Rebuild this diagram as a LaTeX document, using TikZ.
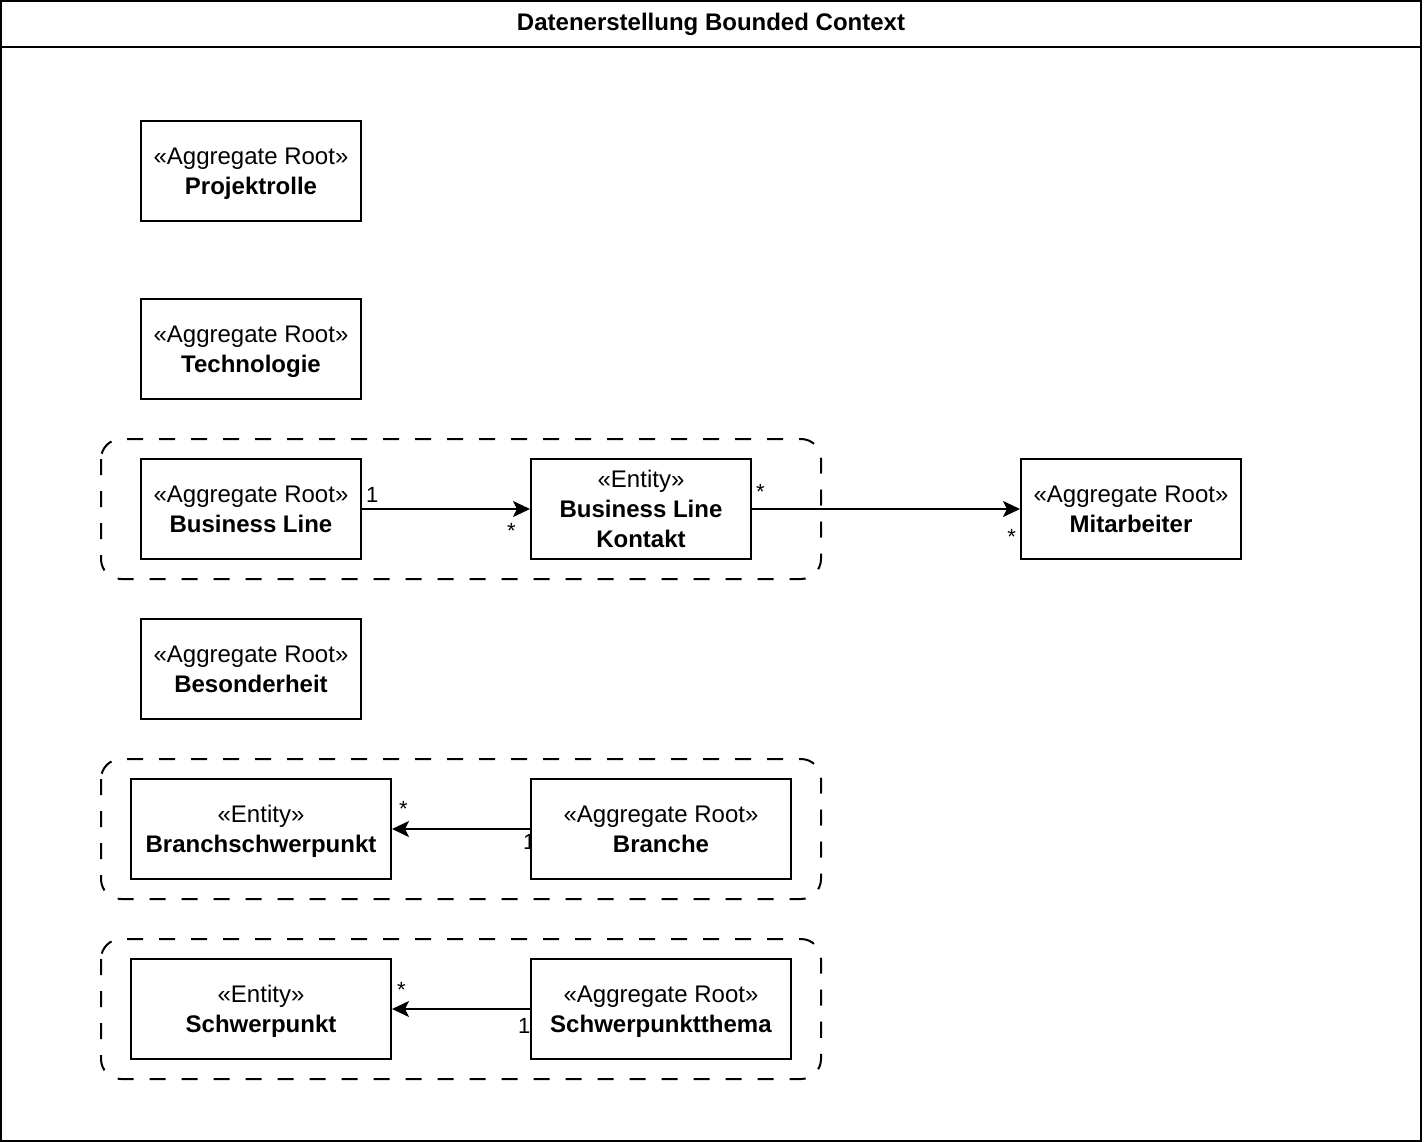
\documentclass[tikz,border=0pt]{standalone}
\usepackage{fontspec}
\setmainfont{Liberation Sans}
\usetikzlibrary{arrows.meta}
\newcommand\nodp[1]{\raisebox{0pt}[\height][0pt]{#1}}
\tikzset{
  box/.style={draw, line width=2pt, fill=white, minimum width=220pt, minimum height=100pt,
    align=center, inner sep=0pt, font=\fontsize{24}{30}\selectfont},
  widebox/.style={box, minimum width=260pt},
  group/.style={draw, line width=2pt, dash pattern=on 16pt off 16pt, rounded corners=20pt},
  conn/.style={line width=2pt, -{Stealth[length=17pt,width=16pt,inset=4pt]}},
  mult/.style={font=\fontsize{22}{24}\selectfont, inner sep=0pt},
  frame/.style={draw, line width=2pt}
}
\begin{document}
\begin{tikzpicture}[x=1pt,y=-1pt]
\useasboundingbox (0,0) rectangle (1424,1142);
% outer frame
\draw[frame] (1,1) rectangle (1421,1141);
\draw[line width=2pt] (1,47) -- (1421,47);
\node[font=\bfseries\fontsize{24}{28}\selectfont] (title) at (711,24) {Datenerstellung Bounded Context};
% groups
\draw[group] (101,439) rectangle (821,579);
\draw[group] (101,759) rectangle (821,899);
\draw[group] (101,939) rectangle (821,1079);
% multiplicity labels (drawn before boxes so boxes clip them)
\node[mult, anchor=west] (m1) at (366,495) {1};
\node[mult, anchor=east] (m2) at (516,531) {*};
\node[mult, anchor=west] (m3) at (756,492) {*};
\node[mult, anchor=east] (m4) at (1016,537) {*};
\node[mult, anchor=west] (m5) at (399,809) {*};
\node[mult, anchor=west] (m6) at (523,842) {1};
\node[mult, anchor=west] (m7) at (397,990) {*};
\node[mult, anchor=west] (m8) at (518,1026) {1};
% boxes
\node[box] (proj) at (251,171) {«Aggregate Root»\\\nodp{\textbf{Projektrolle}}};
\node[box] (tech) at (251,349) {«Aggregate Root»\\\nodp{\textbf{Technologie}}};
\node[box] (bl) at (251,509) {«Aggregate Root»\\\textbf{Business Line}};
\node[box] (blk) at (641,509) {«Entity»\\\textbf{Business Line}\\\textbf{Kontakt}};
\node[box] (mit) at (1131,509) {«Aggregate Root»\\\textbf{Mitarbeiter}};
\node[box] (bes) at (251,669) {«Aggregate Root»\\\textbf{Besonderheit}};
\node[widebox] (bsp) at (261,829) {«Entity»\\\nodp{\textbf{Branchschwerpunkt}}};
\node[widebox] (br) at (661,829) {«Aggregate Root»\\\textbf{Branche}};
\node[widebox] (sp) at (261,1009) {«Entity»\\\nodp{\textbf{Schwerpunkt}}};
\node[widebox] (spt) at (661,1009) {«Aggregate Root»\\\nodp{\textbf{Schwerpunktthema}}};
% connectors
\draw[conn] (bl.east) -- (blk.west);
\draw[conn] (blk.east) -- (mit.west);
\draw[conn] (br.west) -- (bsp.east);
\draw[conn] (spt.west) -- (sp.east);
\end{tikzpicture}
\end{document}
